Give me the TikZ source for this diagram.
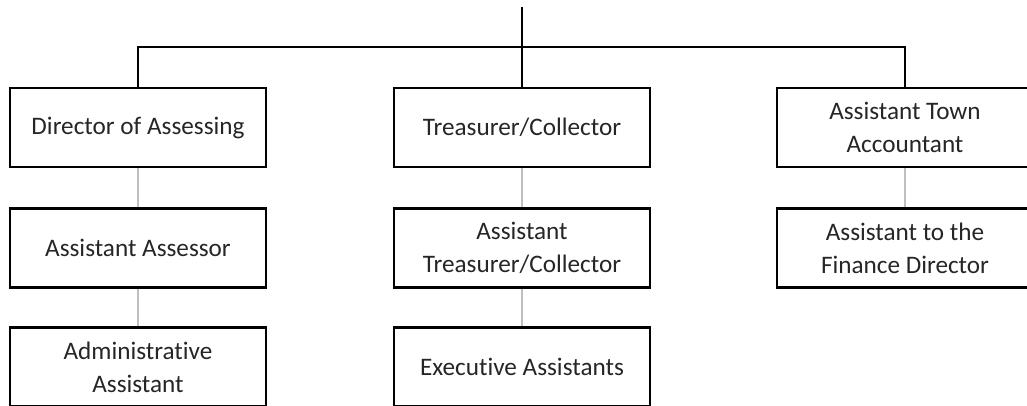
\documentclass[tikz,border=0pt]{standalone}
\usepackage{fontspec}
\setmainfont{Carlito}[Ligatures={NoCommon}]
\definecolor{txt}{HTML}{262626}
\definecolor{link}{HTML}{BFBFBF}
\tikzset{
  orgbox/.style={draw=black, line width=2.2pt, fill=white, minimum width=256pt,
    minimum height=79pt, inner sep=0pt, align=center, text=txt,
    font=\fontsize{25.2}{33}\selectfont},
  mainline/.style={draw=black, line width=2.2pt},
  subline/.style={draw=link, line width=1.6pt}
}
\begin{document}
\begin{tikzpicture}[x=1pt,y=-1pt]
\useasboundingbox (0,0) rectangle (1027,406);
\clip (0,0) rectangle (1027,406);
% top level
\node[orgbox] (dir)   at (138,127.5) {Director of Assessing};
\node[orgbox] (treas) at (522,127.5) {Treasurer/Collector};
\node[orgbox] (acct)  at (905,127.5) {Assistant Town\\Accountant};
% second level
\node[orgbox] (asses)  at (138,248) {Assistant Assessor};
\node[orgbox] (atreas) at (522,248) {Assistant\\Treasurer/Collector};
\node[orgbox] (afin)   at (905,248) {Assistant to the\\Finance Director};
% third level
\node[orgbox] (admin) at (138,367) {Administrative\\Assistant};
\node[orgbox] (exec)  at (522,367) {Executive Assistants};
% connectors
\coordinate (head) at (522,7);
\draw[mainline] (head) -- (treas.north);
\draw[mainline] (dir.north) -- ++(0,-40) -| (acct.north);
\draw[subline] (dir) -- (asses);
\draw[subline] (asses) -- (admin);
\draw[subline] (treas) -- (atreas);
\draw[subline] (atreas) -- (exec);
\draw[subline] (acct) -- (afin);
\end{tikzpicture}
\end{document}
